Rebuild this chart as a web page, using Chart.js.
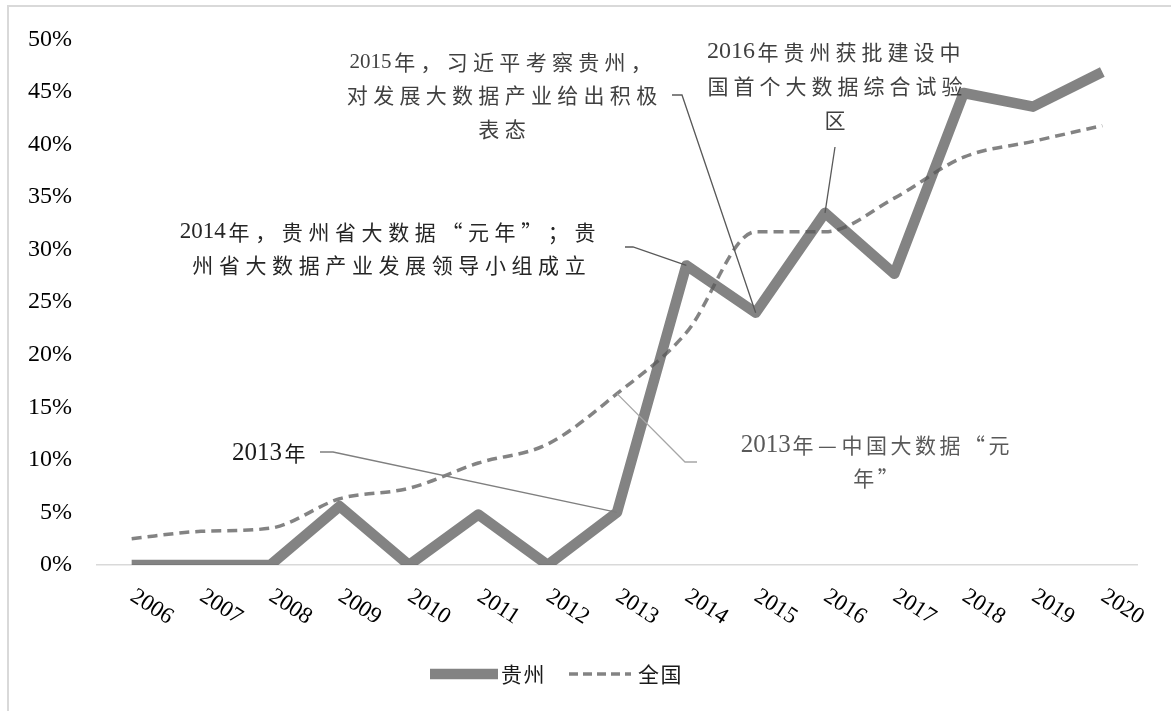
<!DOCTYPE html>
<html>
<head>
<meta charset="utf-8">
<script src="https://cdn.jsdelivr.net/npm/chart.js@4"></script>
<style>
  html, body { margin: 0; padding: 0; background: #fff; overflow: hidden; }
  #wrap { position: relative; width: 1171px; height: 711px; }
  #frame { position: absolute; left: 7px; top: 5px; width: 2000px; height: 2000px;
           border: 2px solid #d9d9d9; pointer-events: none; }
</style>
</head>
<body>
<div id="wrap">
  <canvas id="chart" width="1171" height="711"></canvas>
  <div id="frame"></div>
</div>
<script>
const years = ['2006', '2007', '2008', '2009', '2010', '2011', '2012', '2013', '2014', '2015', '2016', '2017', '2018', '2019', '2020'];
const guizhou = [0, 0, 0, 5.6, 0, 4.8, 0, 5.0, 28.5, 24.0, 33.5, 27.7, 44.9, 43.6, 46.9];
const national = [2.5, 3.2, 3.5, 6.3, 7.3, 9.7, 11.5, 16.3, 22.1, 31.7, 31.7, 34.9, 38.8, 40.3, 41.8];
const yTicks = [0, 5, 10, 15, 20, 25, 30, 35, 40, 45, 50];
const seriesNames = ['贵州', '全国'];

const LINE = 'rgba(88,88,88,0.74)';
const CJK = '"Noto Sans CJK SC"';
const SERIF = '"Liberation Serif", "Times New Roman", serif';

// callouts: text block + leader, leader ends on a data point
const notes = [
  { lines: ['2015年，习近平考察贵州，', '对发展大数据产业给出积极', '表态'], cx: 502, ys: [62, 95, 129],
    color: '#404040', digit: 21, slot: 26.3, leader: [[672, 95], [682, 95]], to: ['gz', 9], lc: '#595959' },
  { lines: ['2016年贵州获批建设中', '国首个大数据综合试验', '区'], cx: 835, ys: [52, 86, 120],
    color: '#404040', digit: 24, slot: 26, leader: [[835, 147]], to: ['gz', 10], lc: '#595959' },
  { lines: ['2014年，贵州省大数据“元年”；贵', '州省大数据产业发展领导小组成立'], cx: 389, ys: [232, 265],
    color: '#262626', digit: 23, slot: 26.6, leader: [[625, 247], [633, 247]], to: ['gz', 8], lc: '#595959' },
  { lines: ['2013年'], right: 308, ys: [453],
    color: '#1a1a1a', digit: 25, slot: 26, leader: [[320, 452], [333, 452]], to: ['gz', 7], lc: '#7f7f7f' },
  { lines: ['2013年—中国大数据“元', '年”'], cx: 876, ys: [445, 478],
    color: '#595959', digit: 25, slot: 24.5, leader: [[697, 462], [685, 462]], to: ['nat', 7], lc: '#a6a6a6' }
];

function measureLine(ctx, s, n) {
  let w = 0;
  for (const ch of s) {
    if (ch.charCodeAt(0) < 128) { ctx.font = n.digit + 'px ' + SERIF; w += ctx.measureText(ch).width; }
    else w += n.slot;
  }
  return w;
}

function drawLine(ctx, s, x, y, n) {
  for (const ch of s) {
    if (ch.charCodeAt(0) < 128) {
      ctx.font = n.digit + 'px ' + SERIF;
      ctx.fillText(ch, x, y);
      x += ctx.measureText(ch).width;
    } else {
      ctx.font = '21px ' + CJK;
      const g = ctx.measureText(ch).width;
      ctx.fillText(ch, x + (n.slot - g) / 2, y);
      x += n.slot;
    }
  }
}

const overlay = {
  id: 'overlay',
  afterDatasetsDraw(chart) {
    const ctx = chart.ctx;
    const xs = chart.scales.x, ys = chart.scales.y;
    ctx.save();
    // leaders
    notes.forEach(n => {
      const vals = n.to[0] === 'gz' ? guizhou : national;
      const end = [xs.getPixelForValue(n.to[1]), ys.getPixelForValue(vals[n.to[1]])];
      ctx.beginPath();
      ctx.strokeStyle = n.lc;
      ctx.lineWidth = 1.3;
      n.leader.forEach((p, i) => i ? ctx.lineTo(p[0], p[1]) : ctx.moveTo(p[0], p[1]));
      ctx.lineTo(end[0], end[1]);
      ctx.stroke();
    });
    // callout text
    ctx.textBaseline = 'middle';
    ctx.textAlign = 'left';
    notes.forEach(n => {
      ctx.fillStyle = n.color;
      n.lines.forEach((s, i) => {
        const w = measureLine(ctx, s, n);
        const x0 = n.right !== undefined ? n.right - w : n.cx - w / 2;
        drawLine(ctx, s, x0, n.ys[i], n);
      });
    });

    // slanted year labels
    ctx.fillStyle = '#000';
    ctx.font = '23px ' + SERIF;
    ctx.textAlign = 'center';
    years.forEach((yr, i) => {
      const px = xs.getPixelForTick(i);
      ctx.save();
      ctx.translate(px + 20, 607);
      ctx.rotate(33 * Math.PI / 180);
      ctx.fillText(yr, 0, 0);
      ctx.restore();
    });

    // legend
    const ly = 674;
    ctx.strokeStyle = LINE;
    ctx.lineCap = 'butt';
    ctx.lineWidth = 10.5;
    ctx.beginPath(); ctx.moveTo(430, ly); ctx.lineTo(498, ly); ctx.stroke();
    ctx.lineWidth = 3.5;
    ctx.setLineDash([9, 5]);
    ctx.beginPath(); ctx.moveTo(569, ly); ctx.lineTo(631, ly); ctx.stroke();
    ctx.setLineDash([]);
    ctx.fillStyle = '#1a1a1a';
    ctx.font = '21px ' + CJK;
    ctx.textAlign = 'left';
    [[seriesNames[0], 501], [seriesNames[1], 638]].forEach(([t, x]) => {
      for (const ch of t) { ctx.fillText(ch, x, ly); x += 22.5; }
    });
    ctx.restore();
  }
};

new Chart(document.getElementById('chart'), {
  type: 'line',
  data: {
    labels: years,
    datasets: [
      { label: seriesNames[0], data: guizhou, borderColor: LINE, borderWidth: 10.5,
        pointRadius: 0, borderJoinStyle: 'round', borderCapStyle: 'butt', tension: 0, clip: 0 },
      { label: seriesNames[1], data: national, borderColor: LINE, borderWidth: 3.5,
        borderDash: [10, 6], pointRadius: 0, cubicInterpolationMode: 'monotone', clip: 0 }
    ]
  },
  options: {
    responsive: false,
    animation: false,
    devicePixelRatio: 1,
    layout: { padding: { left: 0, right: 34, top: 36, bottom: 0 } },
    plugins: { legend: { display: false }, tooltip: { enabled: false } },
    scales: {
      x: {
        offset: true,
        grid: { display: false },
        border: { display: true, color: '#d9d9d9', width: 1.5 },
        ticks: { display: false },
        afterFit: s => { s.height = 146; }
      },
      y: {
        min: 0, max: 50,
        afterBuildTicks: s => { s.ticks = yTicks.map(v => ({ value: v })); },
        grid: { display: false, drawTicks: false },
        border: { display: false },
        ticks: { padding: 25, color: '#000', font: { family: SERIF, size: 24 }, callback: v => v + '%' },
        afterFit: s => { s.width = 97; }
      }
    }
  },
  plugins: [overlay]
});
</script>
</body>
</html>
